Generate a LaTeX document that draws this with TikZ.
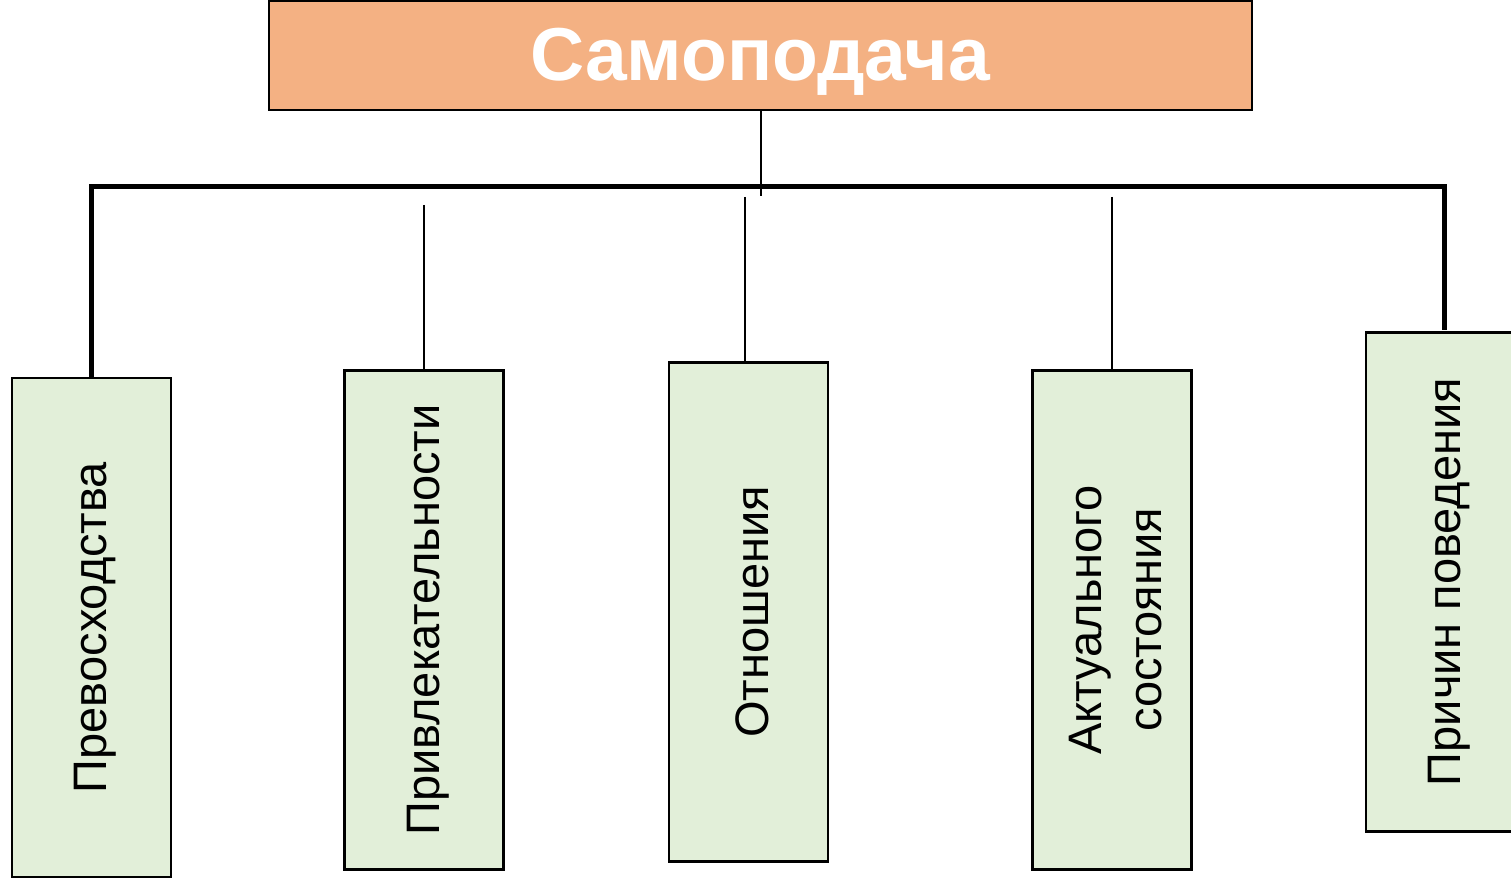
\documentclass[tikz,border=0pt]{standalone}
\usepackage{fontspec}
\setmainfont{Liberation Sans}
\definecolor{titlefill}{HTML}{F4B183}
\definecolor{boxfill}{HTML}{E2EFD9}
\begin{document}
\begin{tikzpicture}[x=1pt,y=1pt,
  titlebox/.style={draw=black, line width=2.5pt, fill=titlefill, minimum width=983pt, minimum height=109pt, inner sep=0pt},
  leafbox/.style={draw=black, line width=2.5pt, fill=boxfill, minimum width=159pt, minimum height=499pt, inner sep=0pt},
  leaftext/.style={rotate=90, align=center, font=\fontsize{47}{60}\selectfont, inner sep=0pt},
  thickline/.style={line width=5pt},
  thinline/.style={line width=1.5pt}]
\clip (0,0) rectangle (1511,883);
\fill[white] (0,0) rectangle (1511,883);
\node[titlebox] (top) at (760.5,827.5) {};
\node[text=white, font=\fontsize{75}{80}\selectfont\bfseries, inner sep=0pt] (toptext) at (760,821) {Самоподача};

\node[leafbox] (b1) at (91.5,255.5) {};
\node[leafbox] (b2) at (424,263) {};
\node[leafbox] (b3) at (748.5,271) {};
\node[leafbox] (b4) at (1112,263) {};
\node[leafbox] (b5) at (1445.5,301) {};

\node[leaftext] (t1) at ([xshift=4pt]b1.center) {Превосходства};
\node[leaftext] (t2) at ([xshift=4pt]b2.center) {Привлекательности};
\node[leaftext] (t3) at ([xshift=4pt]b3.center) {Отношения};
\node[leaftext] (t4) at ([xshift=4pt]b4.center) {Актуального\\состояния};
\node[leaftext] (t5) at ([xshift=4pt]b5.center) {Причин поведения};

\coordinate (bar) at (0,696);
\coordinate (cend) at (761,687);
\coordinate (s2) at (424,678);
\coordinate (s3) at (745,686);
\coordinate (s4) at (1112,686);

\draw[thickline] (b1.north) -- (b1.north |- bar) -- (1444.5,696) -- (1444.5,552.5);
\draw[thinline] (top.south -| cend) -- (cend);
\draw[thinline] (s2) -- (b2.north);
\draw[thinline] (s3) -- (s3 |- b3.north);
\draw[thinline] (s4) -- (b4.north);
\end{tikzpicture}
\end{document}
